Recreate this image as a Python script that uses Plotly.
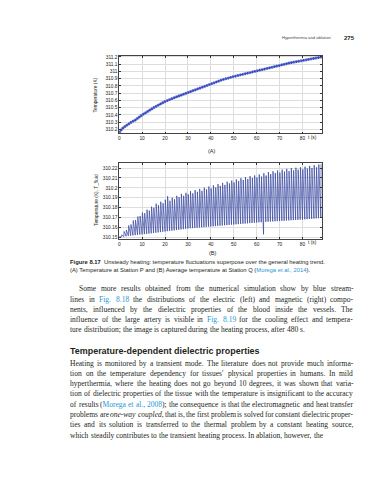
import plotly.graph_objects as go

W, H = 389, 480

# ---------------- data: chart (A) temperature at station P ----------------
a_time = [0, 0.5, 1, 2, 3, 5, 7, 10, 15, 20, 25, 30, 35, 40, 45, 50, 55, 60, 65, 70, 75, 80, 85, 88.5]
a_temp = [310.16, 310.185, 310.20, 310.23, 310.255, 310.295, 310.33, 310.40, 310.50, 310.585, 310.65,
          310.71, 310.775, 310.835, 310.885, 310.93, 310.97, 311.01, 311.05, 311.09, 311.12, 311.15,
          311.18, 311.20]
a_yticks = [310.2, 310.3, 310.4, 310.5, 310.6, 310.7, 310.8, 310.9, 311.0, 311.1, 311.2]
a_yticklabels = ["310.2", "310.3", "310.4", "310.5", "310.6", "310.7", "310.8", "310.9", "311", "311.1", "311.2"]

# ---------------- data: chart (B) average temperature at station Q ----------------
# one heating cycle per second: trough value and peak value of each cycle
b_cycle_start = list(range(0, 89))
b_trough = [310.1500, 310.1505, 310.1508, 310.1511, 310.1514, 310.1517, 310.1520, 310.1523, 310.1525, 310.1528,
            310.1530, 310.1533, 310.1536, 310.1538, 310.1541, 310.1544, 310.1547, 310.1550, 310.1553, 310.1556,
            310.1560, 310.1563, 310.1566, 310.1568, 310.1571, 310.1574, 310.1577, 310.1580, 310.1583, 310.1586,
            310.1590, 310.1592, 310.1594, 310.1596, 310.1598, 310.1600, 310.1602, 310.1604, 310.1606, 310.1608,
            310.1610, 310.1612, 310.1614, 310.1616, 310.1618, 310.1620, 310.1622, 310.1624, 310.1626, 310.1628,
            310.1630, 310.1632, 310.1634, 310.1636, 310.1638, 310.1640, 310.1642, 310.1644, 310.1646, 310.1648,
            310.1650, 310.1652, 310.1653, 310.1530, 310.1657, 310.1658, 310.1660, 310.1661, 310.1662, 310.1664,
            310.1665, 310.1667, 310.1668, 310.1670, 310.1671, 310.1673, 310.1674, 310.1676, 310.1677, 310.1679,
            310.1680, 310.1682, 310.1684, 310.1686, 310.1688, 310.1690, 310.1692, 310.1694, 310.1696]
b_peak = [310.1505, 310.1525, 310.1560, 310.1575, 310.1620, 310.1630, 310.1670, 310.1675, 310.1710, 310.1715,
          310.1750, 310.1745, 310.1780, 310.1770, 310.1810, 310.1800, 310.1840, 310.1825, 310.1860, 310.1845,
          310.1880, 310.1915, 310.1870, 310.1900, 310.1885, 310.1920, 310.1905, 310.1940, 310.1920, 310.1950,
          310.1935, 310.1966, 310.1945, 310.1978, 310.1960, 310.1990, 310.1970, 310.2002, 310.1985, 310.2014,
          310.1995, 310.2026, 310.2005, 310.2038, 310.2020, 310.2050, 310.2030, 310.2062, 310.2045, 310.2074,
          310.2055, 310.2086, 310.2070, 310.2098, 310.2080, 310.2110, 310.2090, 310.2118, 310.2100, 310.2126,
          310.2105, 310.2136, 310.2115, 310.2148, 310.2125, 310.2160, 310.2140, 310.2168, 310.2150, 310.2176,
          310.2155, 310.2184, 310.2165, 310.2192, 310.2170, 310.2200, 310.2178, 310.2204, 310.2183, 310.2208,
          310.2188, 310.2214, 310.2195, 310.2222, 310.2200, 310.2230, 310.2208, 310.2236, 310.2240]
b_yticks = [310.15, 310.16, 310.17, 310.18, 310.19, 310.20, 310.21, 310.22]
b_yticklabels = ["310.15", "310.16", "310.17", "310.18", "310.19", "310.2", "310.21", "310.22"]

x_ticks = [0, 10, 20, 30, 40, 50, 60, 70, 80]
x_ticklabels = ["0", "10", "20", "30", "40", "50", "60", "70", "80"]

# ---------------- page text ----------------
header_text = "Hyperthermia and ablation"
page_number = "275"
label_a = "(A)"
label_b = "(B)"
ytitle_a = "Temperature (K)"
ytitle_b = "Temperature (K), T_fluid"
xtitle = "t (s)"
caption_1 = ("Figure 8.17", "Unsteady heating: temperature fluctuations superpose over the general heating trend.")
caption_2 = ("(A) Temperature at Station P and (B) Average temperature at Station Q (", "Morega et al., 2014", ").")
para_1 = [
    "Some more results obtained from the numerical simulation show by blue stream-",
    "lines in Fig. 8.18 the distributions of the electric (left) and magnetic (right) compo-",
    "nents, influenced by the dielectric properties of the blood inside the vessels. The",
    "influence of the large artery is visible in Fig. 8.19 for the cooling effect and tempera-",
    "ture distribution; the image is captured during the heating process, after 480 s.",
]
heading = "Temperature-dependent dielectric properties"
para_2 = [
    "Heating is monitored by a transient mode. The literature does not provide much informa-",
    "tion on the temperature dependency for tissues' physical properties in humans. In mild",
    "hyperthermia, where the heating does not go beyond 10 degrees, it was shown that varia-",
    "tion of dielectric properties of the tissue with the temperature is insignificant to the accuracy",
    "of results (Morega et al., 2008); the consequence is that the electromagnetic and heat transfer",
    "problems are one-way coupled, that is, the first problem is solved for constant dielectric proper-",
    "ties and its solution is transferred to the thermal problem by a constant heating source,",
    "which steadily contributes to the transient heating process. In ablation, however, the",
]
links = ["Fig. 8.18", "Fig. 8.19", "Morega et al., 2008"]
italics = ["one-way coupled"]

LINK = "#1f97d4"
INK = "#231f20"
BLUE_DARK = "#34449e"

# ---------------- font metrics (per 1000 em) ----------------
def _table(lower, upper, digit, punct):
    t = {}
    for c, w in zip("abcdefghijklmnopqrstuvwxyz", lower):
        t[c] = w
    for c, w in zip("ABCDEFGHIJKLMNOPQRSTUVWXYZ", upper):
        t[c] = w
    for c in "0123456789":
        t[c] = digit
    t.update(punct)
    return t

SERIF = _table([444, 500, 444, 500, 444, 333, 500, 500, 278, 278, 500, 278, 778, 500, 500, 500, 500, 333, 389, 278, 500, 500, 722, 500, 500, 444],
               [722, 667, 667, 722, 611, 556, 722, 722, 333, 389, 722, 611, 889, 722, 722, 556, 722, 667, 556, 611, 722, 722, 944, 722, 722, 611],
               500, {" ": 250, ".": 250, ",": 250, "-": 333, "(": 333, ")": 333, ";": 278, ":": 278, "'": 180})
SANS = _table([556, 556, 500, 556, 556, 278, 556, 556, 222, 222, 500, 222, 833, 556, 556, 556, 556, 333, 500, 278, 556, 500, 722, 500, 500, 500],
              [667, 667, 722, 722, 667, 611, 778, 722, 278, 500, 667, 556, 833, 722, 778, 667, 778, 722, 667, 611, 722, 667, 944, 667, 667, 611],
              556, {" ": 278, ".": 278, ",": 278, "-": 333, "(": 333, ")": 333, ";": 278, ":": 278, "'": 191, "_": 556})
SANSB = _table([556, 611, 556, 611, 556, 333, 611, 611, 278, 278, 556, 278, 889, 611, 611, 611, 611, 389, 556, 333, 611, 556, 778, 556, 556, 500],
               [722, 722, 722, 722, 667, 611, 778, 722, 278, 556, 722, 611, 833, 722, 778, 667, 778, 722, 667, 611, 722, 667, 944, 667, 667, 611],
               556, {" ": 278, ".": 278, ",": 278, "-": 333, "(": 333, ")": 333})


def em(s, table):
    return sum(table.get(c, 500) for c in s) / 1000.0


def px(x):
    return x / W


def py(y):
    return 1 - y / H


annotations = []


def add_text(text, x, y, size, family="Liberation Sans", color=INK, xanchor="left", angle=0):
    annotations.append(dict(text=text, x=px(x), y=py(y), xref="paper", yref="paper", showarrow=False,
                            xanchor=xanchor, yanchor="middle", textangle=angle, borderpad=0, borderwidth=0,
                            font=dict(family=family, size=size, color=color)))


# ---------------- justified body text ----------------
LEFT, RIGHT = 61.5, 345.0


def word_html(start, word, spans):
    out, cur = "", None
    for j, ch in enumerate(word):
        k = start + j
        kind = None
        for a, b, t in spans:
            if a <= k < b:
                kind = t
        if kind != cur:
            if cur == "link":
                out += "</span>"
            elif cur == "ital":
                out += "</i>"
            if kind == "link":
                out += "<span style='color:%s'>" % LINK
            elif kind == "ital":
                out += "<i>"
            cur = kind
        out += ch
    if cur == "link":
        out += "</span>"
    elif cur == "ital":
        out += "</i>"
    return out


def split_line(line):
    spans = []
    for ph in links:
        i = line.find(ph)
        if i >= 0:
            spans.append((i, i + len(ph), "link"))
    for ph in italics:
        i = line.find(ph)
        if i >= 0:
            spans.append((i, i + len(ph), "ital"))
    words, i = [], 0
    for w in line.split(" "):
        words.append((i, w))
        i += len(w) + 1
    return words, spans


all_lines = [(l, 8.5 if k == 0 else 0) for k, l in enumerate(para_1)] + [(l, 0) for l in para_2]
fits = []
for line, indent in all_lines:
    words, _ = split_line(line)
    need = sum(em(w, SERIF) for _, w in words) + 0.2 * (len(words) - 1)
    fits.append((RIGHT - LEFT - indent) / need)
fs_body = min(min(fits), 8.0)


def set_paragraph(lines, y0, step, first_indent):
    for k, line in enumerate(lines):
        y = y0 + k * step
        indent = first_indent if k == 0 else 0
        words, spans = split_line(line)
        widths = [em(w, SERIF) * fs_body for _, w in words]
        last = (k == len(lines) - 1)
        if last or len(words) == 1:
            gap = 0.25 * fs_body
        else:
            gap = (RIGHT - LEFT - indent - sum(widths)) / (len(words) - 1)
        x = LEFT + indent
        for (start, w), wd in zip(words, widths):
            add_text(word_html(start, w, spans), x, y, fs_body, family="Liberation Serif")
            x += wd + gap


set_paragraph(para_1, 281.0, 10.3, 8.5)
set_paragraph(para_2, 355.5, 10.35, 0)

# heading
fs_head = (252 - 61.5) / em(heading, SANSB)
add_text("<b>%s</b>" % heading, 61.5, 343.2, fs_head)

# caption
cap1_em = em(caption_1[0], SANSB) + 0.5 + em(caption_1[1], SANS)
fs_cap = (317 - 61.5) / cap1_em
add_text("<b>%s</b>\u00a0 %s" % caption_1, 61.5, 254.3, fs_cap)
add_text("%s<span style='color:%s'>%s</span>%s" % (caption_2[0], LINK, caption_2[1], caption_2[2]),
         61.5, 262.0, fs_cap)

# running header
fs_hdr = (323 - 274) / em(header_text, SANS)
add_text(header_text, 274, 29, fs_hdr, color="#4a4a4a")
add_text("<b>%s</b>" % page_number, 336, 29, (346 - 336) / em(page_number, SANSB))

# chart labels
add_text(label_a, 204, 143, 5.6, xanchor="center")
add_text(label_b, 205, 245, 5.6, xanchor="center")
add_text(ytitle_a, 87, 86, 4.8, xanchor="center", angle=-90)
add_text(ytitle_b, 87, 192, 4.8, xanchor="center", angle=-90)
add_text(xtitle, 299.5, 129.3, 4.8)
add_text(xtitle, 299.5, 234.5, 4.8)

# ---------------- figure ----------------
fig = go.Figure()

# (A) band with hatched texture
fig.add_trace(go.Scatter(x=a_time, y=a_temp, mode="lines", xaxis="x", yaxis="y",
                         line=dict(color="#a3aeec", width=2.8), hoverinfo="skip"))
fig.add_trace(go.Scatter(x=a_time, y=a_temp, mode="lines", xaxis="x", yaxis="y",
                         line=dict(color="#4152bd", width=1.2), hoverinfo="skip"))
fig.add_trace(go.Scatter(x=a_time, y=a_temp, mode="lines", xaxis="x", yaxis="y",
                         line=dict(color="#3345b5", width=2.6, dash="1px,1.5px"), hoverinfo="skip"))

# (B) sawtooth: rise to peak, decay to next trough
bx, by = [], []
for t0, lo, hi in zip(b_cycle_start, b_trough, b_peak):
    bx += [t0, t0 + 0.12]
    by += [lo, hi]
fig.add_trace(go.Scatter(x=bx, y=by, mode="lines", xaxis="x2", yaxis="y2",
                         line=dict(color=BLUE_DARK, width=0.7), hoverinfo="skip"))

xdom = [px(110.5), px(314)]
common_x = dict(domain=xdom, range=[0, 88.6], tickmode="array", tickvals=x_ticks, ticktext=x_ticklabels,
                ticks="inside", ticklen=2, tickwidth=0.6, tickcolor="#333", showline=True, linecolor="#444",
                linewidth=0.7, mirror="ticks", showgrid=True, gridcolor="#dddddd", gridwidth=0.6,
                zeroline=False, tickfont=dict(family="Liberation Sans", size=4.8, color="#222"))
common_y = dict(ticks="inside", ticklen=2, tickwidth=0.6, tickcolor="#333", showline=True, linecolor="#444",
                linewidth=0.7, mirror="ticks", showgrid=True, gridcolor="#dddddd", gridwidth=0.6,
                zeroline=False, tickmode="array", tickfont=dict(family="Liberation Sans", size=4.8, color="#222"))

fig.update_layout(
    width=W, height=H, autosize=False, margin=dict(l=0, r=0, t=0, b=0),
    paper_bgcolor="white", plot_bgcolor="white", showlegend=False,
    xaxis=dict(anchor="y", **common_x),
    yaxis=dict(anchor="x", domain=[py(125), py(47)], range=[310.145, 311.215],
               tickvals=a_yticks, ticktext=a_yticklabels, **common_y),
    xaxis2=dict(anchor="y2", **common_x),
    yaxis2=dict(anchor="x2", domain=[py(231), py(154.3)], range=[310.1483, 310.2255],
                tickvals=b_yticks, ticktext=b_yticklabels, **common_y),
    annotations=annotations,
)

fig.write_html("out.html", config={"displayModeBar": False})
